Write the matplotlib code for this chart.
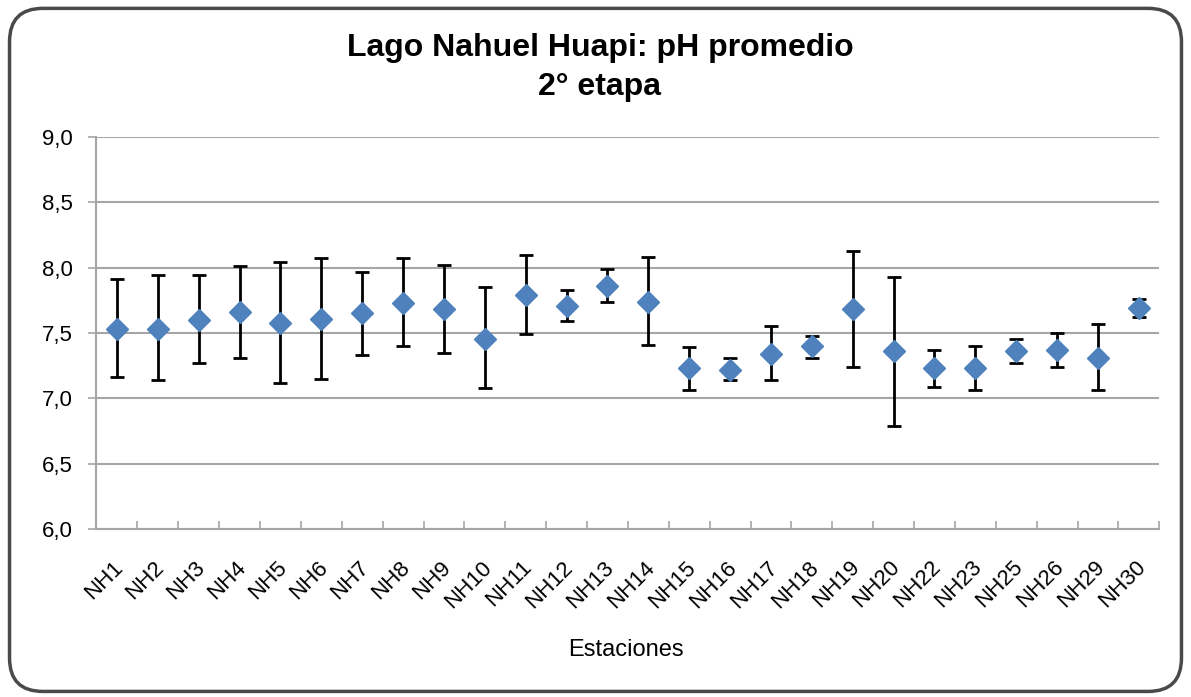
import numpy as np
import matplotlib
matplotlib.use("Agg")
import matplotlib.pyplot as plt
from matplotlib.patches import FancyBboxPatch

plt.rcParams['font.family'] = ['Liberation Sans', 'DejaVu Sans']

# datos
estaciones = ["NH1", "NH2", "NH3", "NH4", "NH5", "NH6", "NH7", "NH8", "NH9", "NH10",
              "NH11", "NH12", "NH13", "NH14", "NH15", "NH16", "NH17", "NH18", "NH19", "NH20",
              "NH22", "NH23", "NH25", "NH26", "NH29", "NH30"]
ph_prom = [7.53, 7.53, 7.60, 7.66, 7.58, 7.61, 7.65, 7.73, 7.68, 7.45,
           7.79, 7.71, 7.86, 7.74, 7.23, 7.22, 7.34, 7.40, 7.68, 7.36,
           7.23, 7.23, 7.36, 7.37, 7.31, 7.69]
ph_min = [7.16, 7.14, 7.27, 7.31, 7.12, 7.15, 7.33, 7.40, 7.35, 7.08,
          7.49, 7.59, 7.74, 7.41, 7.06, 7.14, 7.14, 7.31, 7.24, 6.79,
          7.09, 7.06, 7.27, 7.24, 7.06, 7.62]
ph_max = [7.91, 7.94, 7.94, 8.01, 8.04, 8.07, 7.97, 8.07, 8.02, 7.85,
          8.10, 7.83, 7.99, 8.08, 7.39, 7.31, 7.55, 7.48, 8.13, 7.93,
          7.37, 7.40, 7.45, 7.50, 7.57, 7.76]
y_ticks = [6.0, 6.5, 7.0, 7.5, 8.0, 8.5, 9.0]
y_labels = ["6,0", "6,5", "7,0", "7,5", "8,0", "8,5", "9,0"]

x = np.arange(len(estaciones))
prom = np.array(ph_prom)
err = [prom - np.array(ph_min), np.array(ph_max) - prom]

fig = plt.figure(figsize=(11.91, 6.97), dpi=100)

# marco redondeado estilo excel
marco = FancyBboxPatch((0.008, 0.008), 0.984, 0.980, transform=fig.transFigure,
                       boxstyle="round,pad=0,rounding_size=0.028",
                       facecolor="white", edgecolor="#4a4a4a", linewidth=2.5,
                       mutation_aspect=1191 / 697, zorder=-10)
fig.patches.append(marco)

ax = fig.add_axes([0.081, 0.241, 0.8924, 0.5626])
ax.set_facecolor("none")

ax.errorbar(x, prom, yerr=err, fmt="none", ecolor="black", elinewidth=2.0,
            capsize=4.7, capthick=2.0, zorder=3)
ax.plot(x, prom, linestyle="none", marker="D", markersize=11,
        color="#4F81BD", markeredgecolor="#4F81BD", zorder=4)

ax.set_xlim(-0.5, len(estaciones) - 0.5)
ax.set_ylim(6.0, 9.0)
ax.set_yticks(y_ticks)
ax.set_yticklabels(y_labels, fontsize=16)
ax.grid(axis="y", color="#a6a6a6", linewidth=1.5, zorder=1)
ax.set_axisbelow(True)

# etiquetas un poco corridas a la izquierda como en excel
ax.set_xticks(x - 0.1)
ax.set_xticklabels(estaciones, rotation=45, ha="right", va="top",
                   rotation_mode="anchor", fontsize=16)
ax.tick_params(axis="x", which="major", length=0, pad=20)
ax.set_xticks(np.arange(-0.5, len(estaciones)), minor=True)
ax.tick_params(axis="x", which="minor", direction="in", length=6,
               color="#a6a6a6", width=1.2)
ax.tick_params(axis="y", length=6, color="#a6a6a6", width=1.2, pad=11)

for lado in ["top", "right"]:
    ax.spines[lado].set_visible(False)
for lado in ["left", "bottom"]:
    ax.spines[lado].set_color("#a6a6a6")
    ax.spines[lado].set_linewidth(1.5)

fig.text(600 / 1191, 1 - 48 / 697, "Lago Nahuel Huapi: pH promedio",
         ha="center", va="center", fontsize=23, fontweight="bold")
fig.text(600 / 1191, 1 - 87 / 697, "2° etapa",
         ha="center", va="center", fontsize=23, fontweight="bold")
fig.text(626 / 1191, 1 - 650 / 697, "Estaciones",
         ha="center", va="center", fontsize=17)

fig.savefig("out.png", dpi=100)
